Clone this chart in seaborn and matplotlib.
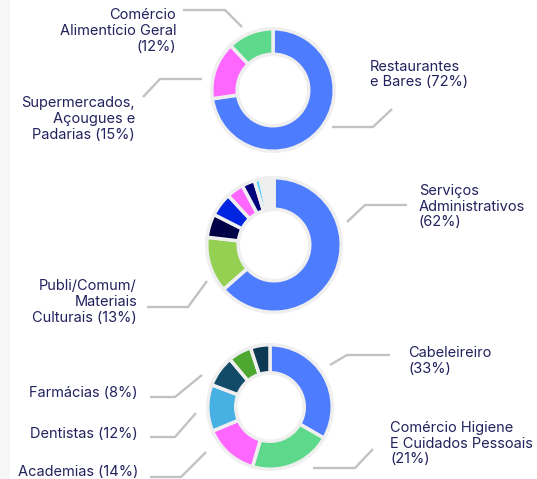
import matplotlib
matplotlib.use("Agg")
import matplotlib.pyplot as plt
import seaborn as sns
from matplotlib.patches import Rectangle

sns.set_theme(style="white")
plt.rcParams['font.family'] = ['Inter', 'DejaVu Sans']

# ---- data ----
alim_labels = ["Restaurantes\ne Bares (72%)", "Supermercados,\nAçougues e\nPadarias (15%)",
               "Comércio\nAlimentício Geral\n(12%)"]
alim_values = [72, 15, 12]
alim_colors = ["#4d7cfe", "#ff66ff", "#5cd98a"]

serv_labels = ["Serviços\nAdministrativos\n(62%)", "Publi/Comum/\nMateriais\nCulturais (13%)"]
serv_values = [62, 13, 5.5, 5.5, 4, 3, 1.4, 0.8, 0.8, 0.8, 0.8]
serv_colors = ["#4d7cfe", "#94d152", "#000046", "#0025e0", "#ff66ff", "#00007a",
               "#55d0ff", "#f6f6f6", "#f6f6f6", "#f6f6f6", "#f6f6f6"]

saude_labels = ["Cabeleireiro\n(33%)", "Comércio Higiene\nE Cuidados Pessoais\n(21%)",
                "Academias (14%)", "Dentistas (12%)", "Farmácias (8%)"]
saude_values = [33, 21, 14, 12, 8, 6, 5]
saude_colors = ["#4d7cfe", "#5cd98a", "#ff66ff", "#48b1e3", "#124b68", "#4ea72e", "#0b3a52"]

W, H = 537, 479
fig = plt.figure(figsize=(W / 100, H / 100), dpi=100)
ax = fig.add_axes([0, 0, 1, 1])

def Y(y):
    return H - y

RING = "#efefef"
LW_PX = 3.5

def donut(values, colors, cx, cy, r_out, r_in):
    rw = r_out - LW_PX / 2
    width = (r_out - r_in) - LW_PX
    ax.pie(values, colors=colors, radius=rw, center=(cx, Y(cy)), startangle=90,
           counterclock=False,
           wedgeprops=dict(width=width, edgecolor=RING, linewidth=LW_PX * 0.72))

donut(alim_values, alim_colors, 273, 90, 63, 34)
donut(serv_values, serv_colors, 274, 245, 69, 34)
donut(saude_values, saude_colors, 270, 407, 64, 32.5)

ax.add_patch(Rectangle((0, 0), 10, H, facecolor="#f6f6f6", edgecolor="none", zorder=0))

TXT = "#22225e"
FS = 10.5
LS = 1.18

def label(x, y, s, ha):
    ax.text(x, Y(y), s, ha=ha, va="center", multialignment=ha, color=TXT,
            fontsize=FS, linespacing=LS)

def leader(pts):
    xs = [p[0] for p in pts]
    ys = [Y(p[1]) for p in pts]
    ax.plot(xs, ys, color="#c2c2c2", lw=1.7, solid_capstyle="butt")

# donut 1
label(370, 74.5, alim_labels[0], "left")
label(135, 119, alim_labels[1], "right")
label(176, 31, alim_labels[2], "right")
leader([(332, 127), (373, 127), (392, 109)])
leader([(143, 97), (160, 79), (202, 79)])
leader([(183, 10), (225, 10), (242, 27)])

# donut 2
label(419, 206.5, serv_labels[0], "left")
label(137, 302, serv_labels[1], "right")
leader([(347, 222), (365, 205), (407, 205)])
leader([(147, 307), (188, 307), (207, 281)])

# donut 3
label(408, 361, saude_labels[0], "left")
label(390, 443.5, saude_labels[1], "left")
label(138, 472, saude_labels[2], "right")
label(138, 434, saude_labels[3], "right")
label(138, 393, saude_labels[4], "right")
leader([(330, 365), (347, 355), (390, 355)])
leader([(313, 468), (355, 468), (373, 449)])
leader([(150, 477), (181, 477), (206, 452)])
leader([(150, 437), (175, 437), (196, 413)])
leader([(150, 397), (175, 397), (202, 375)])

ax.set_xlim(0, W)
ax.set_ylim(0, H)
ax.set_aspect("auto")
ax.axis("off")

fig.savefig("out.png", dpi=100, facecolor="white")
